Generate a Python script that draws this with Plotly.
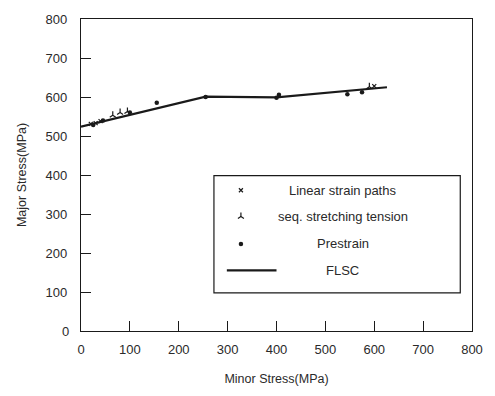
import plotly.graph_objects as go

# FLSC curve
flsc_x = [0, 255, 400, 626]
flsc_y = [524, 601, 599, 625]

# Linear strain paths
lin_x = [20, 30, 40, 600]
lin_y = [531, 533, 538, 628]

# seq. stretching tension
seq_x = [65, 80, 95, 590]
seq_y = [553, 560, 563, 626]

# Prestrain
pre_x = [25, 45, 100, 155, 255, 400, 405, 545, 575]
pre_y = [528, 540, 560, 585, 600, 598, 606, 607, 612]

x_ticks = [0, 100, 200, 300, 400, 500, 600, 700, 800]
y_ticks = [100, 200, 300, 400, 500, 600, 700, 800]

legend_names = ["Linear strain paths", "seq. stretching tension", "Prestrain", "FLSC"]

FONT = "Liberation Sans, Arial, sans-serif"
INK = "#1a1a1a"

fig = go.Figure()
fig.add_trace(go.Scatter(x=flsc_x, y=flsc_y, mode="lines",
                         line=dict(color=INK, width=2.2), showlegend=False))
fig.add_trace(go.Scatter(x=lin_x, y=lin_y, mode="markers",
                         marker=dict(symbol="x-thin", size=4, line=dict(color=INK, width=1.2)),
                         showlegend=False))
fig.add_trace(go.Scatter(x=seq_x, y=seq_y, mode="markers",
                         marker=dict(symbol="y-up", size=5, line=dict(color=INK, width=1.2)),
                         showlegend=False))
fig.add_trace(go.Scatter(x=pre_x, y=pre_y, mode="markers",
                         marker=dict(symbol="circle", size=4.5, color=INK),
                         showlegend=False))

# manual legend (overlay axes 0..1)
lx0, lx1, ly0, ly1 = 0.340, 0.970, 0.122, 0.498
ent_y = [0.451, 0.367, 0.279, 0.194]
sym_x = 0.409
txt_x = 0.670
fig.add_shape(type="rect", xref="paper", yref="paper", x0=lx0, x1=lx1, y0=ly0, y1=ly1,
              line=dict(color=INK, width=1.2), fillcolor="white", layer="below")
fig.add_trace(go.Scatter(x=[sym_x], y=[ent_y[0]], xaxis="x2", yaxis="y2", mode="markers",
                         marker=dict(symbol="x-thin", size=4, line=dict(color=INK, width=1.2)),
                         showlegend=False))
fig.add_trace(go.Scatter(x=[sym_x], y=[ent_y[1]], xaxis="x2", yaxis="y2", mode="markers",
                         marker=dict(symbol="y-up", size=5, line=dict(color=INK, width=1.2)),
                         showlegend=False))
fig.add_trace(go.Scatter(x=[sym_x], y=[ent_y[2]], xaxis="x2", yaxis="y2", mode="markers",
                         marker=dict(symbol="circle", size=4.5, color=INK),
                         showlegend=False))
fig.add_trace(go.Scatter(x=[0.373, 0.500], y=[ent_y[3], ent_y[3]], xaxis="x2", yaxis="y2",
                         mode="lines", line=dict(color=INK, width=2.2), showlegend=False))
for name, yy in zip(legend_names, ent_y):
    fig.add_annotation(x=txt_x, y=yy, xref="paper", yref="paper", text=name,
                       showarrow=False, xanchor="center", yanchor="middle",
                       font=dict(family=FONT, size=13, color="#2a2a2a"))

fig.update_layout(
    width=495, height=396,
    margin=dict(l=81, r=20, t=13, b=64),
    paper_bgcolor="white", plot_bgcolor="white",
    font=dict(family=FONT, color=INK),
    xaxis=dict(range=[0, 800], tickvals=x_ticks, ticks="inside", ticklen=10,
               tickcolor=INK, tickwidth=1.2, showline=True, linecolor=INK, linewidth=1.4,
               mirror=True, showgrid=False, zeroline=False,
               tickfont=dict(size=13, color="#2a2a2a"), ticklabelstandoff=6,
               title=dict(text="Minor Stress(MPa)", font=dict(size=12.5, color="#2a2a2a"), standoff=18)),
    yaxis=dict(range=[0, 800], tickvals=y_ticks, ticks="inside", ticklen=10,
               tickcolor=INK, tickwidth=1.2, showline=True, linecolor=INK, linewidth=1.4,
               mirror=True, showgrid=False, zeroline=False,
               tickfont=dict(size=13, color="#2a2a2a"), ticklabelstandoff=10,
               title=dict(text="Major Stress(MPa)", font=dict(size=12.5, color="#2a2a2a"), standoff=16)),
    xaxis2=dict(range=[0, 1], overlaying="x", visible=False, anchor="y2"),
    yaxis2=dict(range=[0, 1], overlaying="y", visible=False, anchor="x2"),
)
fig.add_annotation(x=0, y=0, xref="paper", yref="paper", text="0", showarrow=False,
                   xanchor="right", yanchor="middle", xshift=-10,
                   font=dict(family=FONT, size=13, color="#2a2a2a"))

fig.write_html("out.html")
